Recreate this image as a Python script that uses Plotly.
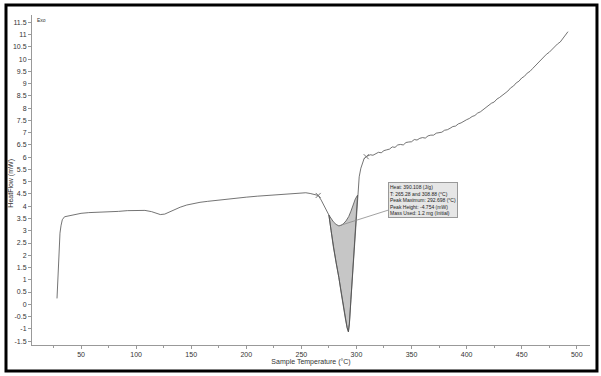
import plotly.graph_objects as go

# Heat flow signal before the melting peak (temperature °C, heat flow mW)
temp_pre = [28.2, 28.6, 29.2, 30.0, 30.9, 31.8, 33.0, 35, 38, 41, 45, 50, 57, 66, 75, 84, 92,
            100, 108, 114, 118, 122, 126, 130, 135, 140, 146, 152, 158, 165, 172, 180, 190,
            200, 210, 220, 230, 240, 248, 254, 258, 262, 265.28, 268, 271, 275]
flow_pre = [0.24, 0.7, 1.5, 2.4, 2.9, 3.2, 3.45, 3.57, 3.6, 3.64, 3.68, 3.71, 3.74, 3.75, 3.77,
            3.79, 3.82, 3.84, 3.83, 3.78, 3.72, 3.66, 3.68, 3.76, 3.88, 3.96, 4.05, 4.12, 4.16,
            4.2, 4.24, 4.28, 4.33, 4.37, 4.41, 4.44, 4.46, 4.48, 4.52, 4.55, 4.52, 4.48, 4.44,
            4.25, 3.98, 3.64]

# Endothermic peak of the signal
temp_peak = [275, 277, 279, 281.5, 284, 286, 288, 290, 291.5, 292.698, 293.6, 295, 296.5,
             297.5, 299, 300, 301]
flow_peak = [3.64, 3.0, 2.35, 1.7, 1.1, 0.5, -0.1, -0.6, -0.95, -1.12, -0.8, 0.2, 1.2, 1.9,
             2.9, 3.7, 4.45]

# Integration baseline under the peak
temp_base = [275, 277, 279, 281.5, 284, 286, 288, 290.5, 293, 295, 297, 299, 301]
flow_base = [3.64, 3.5, 3.37, 3.26, 3.2, 3.22, 3.28, 3.4, 3.58, 3.8, 4.1, 4.3, 4.45]

# Signal after the peak
temp_post = [301, 302.5, 304, 305.5, 307, 308.88, 310, 312.5, 315, 317.5, 320, 322.5, 325,
             327.5, 330, 332.5, 335, 337.5, 340, 342.5, 345, 347.5, 350, 352.5, 355, 357.5,
             360, 362.5, 365, 367.5, 370, 372.5, 375, 377.5, 380, 382.5, 385, 387.5, 390,
             392.5, 395, 397.5, 400, 402.5, 405, 407.5, 410, 412.5, 415, 417.5, 420, 422.5,
             425, 427.5, 430, 432.5, 435, 437.5, 440, 442.5, 445, 447.5, 450, 452.5, 455,
             457.5, 460, 462.5, 465, 467.5, 470, 472.5, 475, 477.5, 480, 482.5, 485, 487.5,
             490, 492]
flow_post = [4.45, 5.2, 5.55, 5.8, 5.95, 6.02, 6.05, 6.1, 6.08, 6.15, 6.2, 6.18, 6.27, 6.3,
             6.33, 6.42, 6.4, 6.5, 6.52, 6.5, 6.6, 6.62, 6.63, 6.72, 6.7, 6.77, 6.8, 6.78,
             6.87, 6.9, 6.9, 6.98, 7.0, 7.02, 7.1, 7.12, 7.18, 7.25, 7.27, 7.36, 7.4, 7.48,
             7.53, 7.58, 7.66, 7.7, 7.8, 7.85, 7.94, 8.02, 8.08, 8.2, 8.25, 8.37, 8.44, 8.52,
             8.63, 8.7, 8.83, 8.9, 9.03, 9.1, 9.23, 9.3, 9.43, 9.5, 9.62, 9.74, 9.84, 9.98,
             10.06, 10.2, 10.28, 10.4, 10.48, 10.62, 10.7, 10.85, 10.95, 11.12]

# Integration limits
limit_temp = [265.28, 308.88]
limit_flow = [4.44, 6.02]

result_lines = [
    "Heat: 390.108 (J/g)",
    "T: 265.28 and 308.88 (°C)",
    "Peak Maximum: 292.698 (°C)",
    "Peak Height: -4.754 (mW)",
    "Mass Used: 1.2 mg (Initial)",
]

x_ticks = [50, 100, 150, 200, 250, 300, 350, 400, 450, 500]
y_ticks = [i * 0.5 for i in range(-3, 24)]

LINE = "#505050"

fig = go.Figure()

# shaded peak area between signal and baseline
fig.add_trace(go.Scatter(
    x=temp_base + temp_peak[::-1], y=flow_base + flow_peak[::-1],
    fill="toself", fillcolor="#c6c6c6", mode="lines",
    line=dict(color=LINE, width=0.8), hoverinfo="skip", showlegend=False))

signal_t = temp_pre + temp_peak[1:] + temp_post[1:]
signal_f = flow_pre + flow_peak[1:] + flow_post[1:]
fig.add_trace(go.Scatter(x=signal_t, y=signal_f, mode="lines",
                         line=dict(color=LINE, width=0.8), showlegend=False))

fig.add_trace(go.Scatter(x=limit_temp, y=limit_flow, mode="markers",
                         marker=dict(symbol="x-thin", size=5,
                                     line=dict(color="#777", width=1)),
                         showlegend=False))

# leader from the baseline dip to the result box
fig.add_trace(go.Scatter(x=[284, 329.5], y=[3.2, 3.85], mode="lines",
                         line=dict(color="#8a8a8a", width=0.8), showlegend=False))

fig.add_annotation(x=329, y=5.0, xref="x", yref="y", xanchor="left", yanchor="top",
                   text="<br>".join(result_lines), showarrow=False, align="left",
                   font=dict(family="Arial", size=5, color="#222"),
                   bgcolor="#e6e6e6", bordercolor="#999", borderwidth=1, borderpad=1)

fig.add_annotation(x=0.006, y=1.0, xref="paper", yref="paper", xanchor="left",
                   yanchor="top", text="Exo", showarrow=False,
                   font=dict(family="Arial", size=5, color="#333"))

axis_font = dict(family="Arial", size=7, color="#333")

# y-axis title placed left of the tick labels
fig.add_annotation(x=-0.037, y=0.49, xref="paper", yref="paper", xanchor="center",
                   yanchor="middle", text="HeatFlow (mW)", textangle=-90,
                   showarrow=False, font=axis_font)

# outer black frame
fig.add_shape(type="rect", xref="paper", yref="paper",
              x0=-0.0466, x1=1.0125, y0=-0.0788, y1=1.0303,
              line=dict(color="black", width=3), fillcolor="rgba(0,0,0,0)")

fig.update_xaxes(range=[5.5, 512], tickvals=x_ticks, ticks="outside", ticklen=3,
                 tickcolor="#999", showline=True, linecolor="#999", linewidth=1,
                 showgrid=False, zeroline=False, tickfont=axis_font,
                 minor=dict(dtick=25, tick0=0, ticks="outside", ticklen=2, tickcolor="#999"),
                 title=dict(text="Sample Temperature (°C)", font=axis_font, standoff=1))
fig.update_yaxes(range=[-1.66, 11.8], tickvals=y_ticks,
                 ticktext=[("%g" % v) for v in y_ticks], ticks="outside", ticklen=3,
                 tickcolor="#999", showline=True, linecolor="#999", linewidth=1,
                 showgrid=False, zeroline=False, tickfont=axis_font)

fig.update_layout(width=601, height=376, margin=dict(l=32, r=11, t=15, b=31),
                  plot_bgcolor="white", paper_bgcolor="white", showlegend=False)

fig.write_html("out.html")
